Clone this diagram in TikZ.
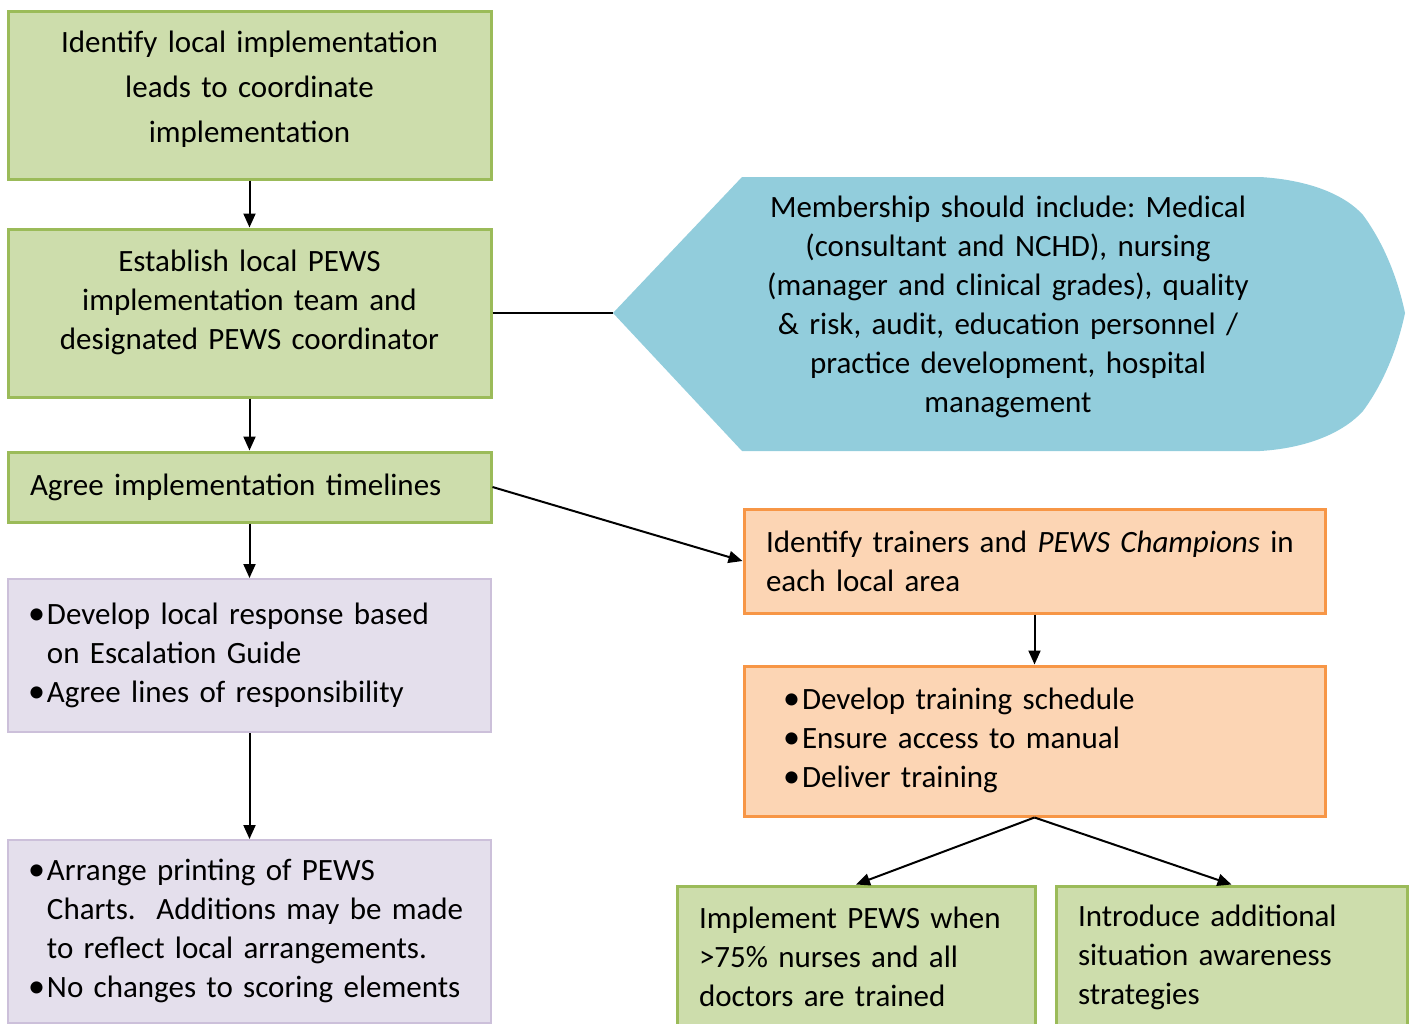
\documentclass[tikz,border=0pt]{standalone}
\usepackage{fontspec}
\setmainfont{Carlito}
\frenchspacing
\usetikzlibrary{arrows.meta}
\definecolor{greenfill}{HTML}{CDDDAC}
\definecolor{greenline}{HTML}{9BBB59}
\definecolor{lilacfill}{HTML}{E4DFEC}
\definecolor{lilacline}{HTML}{CCC0DA}
\definecolor{bluefill}{HTML}{92CDDC}
\definecolor{orangefill}{HTML}{FCD5B4}
\definecolor{orangeline}{HTML}{F79646}
\newcommand{\lift}[1]{\rule[-#1]{0pt}{#1}}
\newcommand{\blob}{\makebox[8.5pt][l]{\hspace{-1pt}\scalebox{1.1}{\textbullet}}}
\newcommand{\bullets}[1]{\begin{tabular}{@{}l@{}l@{}}#1\end{tabular}}
\tikzset{
  box/.style={draw, inner xsep=11pt, inner ysep=0pt, font=\fontsize{15.5}{19.5}\selectfont},
  greenbox/.style={box, draw=greenline, fill=greenfill, line width=1.5pt},
  lilacbox/.style={box, draw=lilacline, fill=lilacfill, line width=1pt, align=left},
  orangebox/.style={box, draw=orangeline, fill=orangefill, line width=1.5pt, align=left},
  link/.style={line width=1pt, -{Triangle[length=7pt,width=6pt]}}
}
\begin{document}
\begin{tikzpicture}[x=0.5pt, y=-0.5pt]
  \useasboundingbox (0,0) rectangle (1412,1023);
  \clip (0,0) rectangle (1412,1023);
  % left column
  \node[greenbox, text width=219.5pt, minimum height=84pt, align=center,
        font=\fontsize{15.5}{22.5}\selectfont] (leads) at (249.5,95)
    {Identify local implementation\\ leads to coordinate\\ implementation\lift{8pt}};
  \node[greenbox, text width=219.5pt, minimum height=84pt, align=center] (team) at (249.5,313)
    {Establish local PEWS\\ implementation team and\\ designated PEWS coordinator\lift{13pt}};
  \node[greenbox, text width=219.5pt, minimum height=35pt, align=left] (timelines) at (249.5,487)
    {Agree implementation timelines};
  \node[lilacbox, text width=219.5pt, minimum height=76.5pt] (response) at (249.5,655.5)
    {\bullets{\blob & Develop local response based\\ & on Escalation Guide\\ \blob & Agree lines of responsibility}};
  \node[lilacbox, text width=219.5pt, minimum height=91.5pt] (charts) at (249.5,931.5)
    {\bullets{\blob & Arrange printing of PEWS\\ & Charts.~ Additions may be made\\ & to reflect local arrangements.\\ \blob & No changes to scoring elements}};
  % membership display shape
  \fill[bluefill] (613,313) -- (742,177) -- (1260,177)
    .. controls (1310,180) and (1345,195) .. (1363,215)
    .. controls (1385,245) and (1398,280) .. (1405,313)
    .. controls (1398,346) and (1385,381) .. (1363,411)
    .. controls (1345,431) and (1310,448) .. (1260,451)
    -- (742,451) -- cycle;
  \coordinate (tip) at (613,313);
  \node[font=\fontsize{15.5}{19.5}\selectfont, text width=250pt, align=center] (members) at (1008,314)
    {Membership should include: Medical\\ (consultant and NCHD), nursing\\ (manager and clinical grades), quality\\ \& risk, audit, education personnel /\\ practice development, hospital\\ management\lift{10pt}};
  % right column
  \node[orangebox, text width=268.5pt, minimum height=52pt] (trainers) at (1034.5,561)
    {\mbox{Identify trainers and \textit{PEWS Champions} in}\\ each local area};
  \node[orangebox, text width=268.5pt, minimum height=75pt] (training) at (1034.5,741)
    {\hspace{9.5pt}\bullets{\blob & Develop training schedule\\ \blob & Ensure access to manual\\ \blob & Deliver training}};
  \node[greenbox, text width=157pt, minimum height=71pt, align=left] (implement) at (856,957)
    {Implement PEWS when\\ >75\% nurses and all\\ doctors are trained};
  \node[greenbox, text width=153.5pt, minimum height=71pt, align=left] (introduce) at (1231.5,957)
    {Introduce additional\\ situation awareness\\ strategies};
  % connectors
  \draw[link] (leads) -- (team);
  \draw[link] (team) -- (timelines);
  \draw[link] (timelines) -- (response);
  \draw[link] (response) -- (charts);
  \draw[line width=1pt] (team.east) -- (tip);
  \draw[link] (timelines.east) -- (trainers.west);
  \draw[link] (trainers) -- (training);
  \draw[link] (training.south) -- (implement.north);
  \draw[link] (training.south) -- (introduce.north);
\end{tikzpicture}
\end{document}
